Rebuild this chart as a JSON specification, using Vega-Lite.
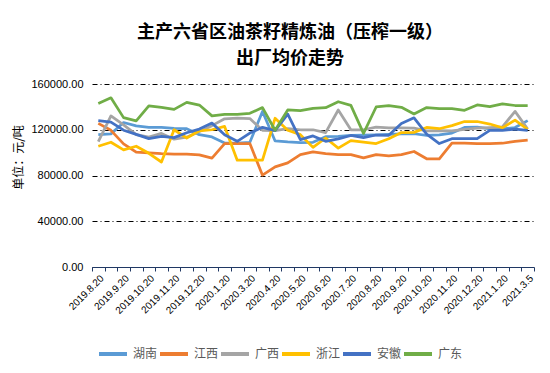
{
"$schema": "https://vega.github.io/schema/vega-lite/v6.json",
"width": 442, "height": 183,
"autosize": {"type": "none"},
"padding": {"left": 92, "top": 84, "right": 16, "bottom": 106},
"background": "white",
"title": {"text": ["主产六省区油茶籽精炼油（压榨一级）", "出厂均价走势"], "font": "Noto Sans CJK SC", "fontSize": 18, "fontWeight": "bold", "color": "#000000", "lineHeight": 26, "anchor": "middle", "dx": -23, "offset": 10},
"config": {"view": {"stroke": null}},
"data": {"values": [
{"d":"2019.8.20","p":"湖南","v":115700},{"d":"2019.9.5","p":"湖南","v":116400},{"d":"2019.9.20","p":"湖南","v":126300},{"d":"2019.10.5","p":"湖南","v":123400},{"d":"2019.10.20","p":"湖南","v":122000},{"d":"2019.11.5","p":"湖南","v":122000},{"d":"2019.11.20","p":"湖南","v":121100},{"d":"2019.12.5","p":"湖南","v":120900},{"d":"2019.12.20","p":"湖南","v":115700},{"d":"2020.1.5","p":"湖南","v":113700},{"d":"2020.1.20","p":"湖南","v":108500},{"d":"2020.3.5","p":"湖南","v":108200},{"d":"2020.3.20","p":"湖南","v":109000},{"d":"2020.4.5","p":"湖南","v":136000},{"d":"2020.4.20","p":"湖南","v":110200},{"d":"2020.5.5","p":"湖南","v":109300},{"d":"2020.5.20","p":"湖南","v":108800},{"d":"2020.6.5","p":"湖南","v":109000},{"d":"2020.6.20","p":"湖南","v":113900},{"d":"2020.7.5","p":"湖南","v":114200},{"d":"2020.7.20","p":"湖南","v":115000},{"d":"2020.8.5","p":"湖南","v":115200},{"d":"2020.8.20","p":"湖南","v":115500},{"d":"2020.9.5","p":"湖南","v":116000},{"d":"2020.9.20","p":"湖南","v":116300},{"d":"2020.10.5","p":"湖南","v":116500},{"d":"2020.10.20","p":"湖南","v":115100},{"d":"2020.11.5","p":"湖南","v":115600},{"d":"2020.11.20","p":"湖南","v":117100},{"d":"2020.12.5","p":"湖南","v":122000},{"d":"2020.12.20","p":"湖南","v":122400},{"d":"2021.1.5","p":"湖南","v":120700},{"d":"2021.1.20","p":"湖南","v":120700},{"d":"2021.2.5","p":"湖南","v":121900},{"d":"2021.3.5","p":"湖南","v":128000},
{"d":"2019.8.20","p":"江西","v":125600},{"d":"2019.9.5","p":"江西","v":119500},{"d":"2019.9.20","p":"江西","v":107700},{"d":"2019.10.5","p":"江西","v":100400},{"d":"2019.10.20","p":"江西","v":99800},{"d":"2019.11.5","p":"江西","v":99100},{"d":"2019.11.20","p":"江西","v":98700},{"d":"2019.12.5","p":"江西","v":98700},{"d":"2019.12.20","p":"江西","v":98100},{"d":"2020.1.5","p":"江西","v":95200},{"d":"2020.1.20","p":"江西","v":107900},{"d":"2020.3.5","p":"江西","v":107900},{"d":"2020.3.20","p":"江西","v":107900},{"d":"2020.4.5","p":"江西","v":80300},{"d":"2020.4.20","p":"江西","v":87500},{"d":"2020.5.5","p":"江西","v":91000},{"d":"2020.5.20","p":"江西","v":98300},{"d":"2020.6.5","p":"江西","v":100600},{"d":"2020.6.20","p":"江西","v":99100},{"d":"2020.7.5","p":"江西","v":98300},{"d":"2020.7.20","p":"江西","v":98300},{"d":"2020.8.5","p":"江西","v":95400},{"d":"2020.8.20","p":"江西","v":98300},{"d":"2020.9.5","p":"江西","v":97100},{"d":"2020.9.20","p":"江西","v":98300},{"d":"2020.10.5","p":"江西","v":101000},{"d":"2020.10.20","p":"江西","v":94600},{"d":"2020.11.5","p":"江西","v":94600},{"d":"2020.11.20","p":"江西","v":108400},{"d":"2020.12.5","p":"江西","v":108400},{"d":"2020.12.20","p":"江西","v":107900},{"d":"2021.1.5","p":"江西","v":107900},{"d":"2021.1.20","p":"江西","v":108200},{"d":"2021.2.5","p":"江西","v":109900},{"d":"2021.3.5","p":"江西","v":111000},
{"d":"2019.8.20","p":"广西","v":109600},{"d":"2019.9.5","p":"广西","v":132100},{"d":"2019.9.20","p":"广西","v":124300},{"d":"2019.10.5","p":"广西","v":115700},{"d":"2019.10.20","p":"广西","v":113500},{"d":"2019.11.5","p":"广西","v":116800},{"d":"2019.11.20","p":"广西","v":111800},{"d":"2019.12.5","p":"广西","v":113500},{"d":"2019.12.20","p":"广西","v":118500},{"d":"2020.1.5","p":"广西","v":123600},{"d":"2020.1.20","p":"广西","v":129600},{"d":"2020.3.5","p":"广西","v":130100},{"d":"2020.3.20","p":"广西","v":129800},{"d":"2020.4.5","p":"广西","v":119500},{"d":"2020.4.20","p":"广西","v":119300},{"d":"2020.5.5","p":"广西","v":121000},{"d":"2020.5.20","p":"广西","v":120000},{"d":"2020.6.5","p":"广西","v":120000},{"d":"2020.6.20","p":"广西","v":117500},{"d":"2020.7.5","p":"广西","v":137300},{"d":"2020.7.20","p":"广西","v":120000},{"d":"2020.8.5","p":"广西","v":120000},{"d":"2020.8.20","p":"广西","v":122300},{"d":"2020.9.5","p":"广西","v":121700},{"d":"2020.9.20","p":"广西","v":121700},{"d":"2020.10.5","p":"广西","v":121400},{"d":"2020.10.20","p":"广西","v":119100},{"d":"2020.11.5","p":"广西","v":119300},{"d":"2020.11.20","p":"广西","v":119000},{"d":"2020.12.5","p":"广西","v":120400},{"d":"2020.12.20","p":"广西","v":121400},{"d":"2021.1.5","p":"广西","v":121900},{"d":"2021.1.20","p":"广西","v":122600},{"d":"2021.2.5","p":"广西","v":136100},{"d":"2021.3.5","p":"广西","v":120700},
{"d":"2019.8.20","p":"浙江","v":105600},{"d":"2019.9.5","p":"浙江","v":109100},{"d":"2019.9.20","p":"浙江","v":102400},{"d":"2019.10.5","p":"浙江","v":105600},{"d":"2019.10.20","p":"浙江","v":99400},{"d":"2019.11.5","p":"浙江","v":91800},{"d":"2019.11.20","p":"浙江","v":120000},{"d":"2019.12.5","p":"浙江","v":112800},{"d":"2019.12.20","p":"浙江","v":119100},{"d":"2020.1.5","p":"浙江","v":120000},{"d":"2020.1.20","p":"浙江","v":122900},{"d":"2020.3.5","p":"浙江","v":93400},{"d":"2020.3.20","p":"浙江","v":93400},{"d":"2020.4.5","p":"浙江","v":93400},{"d":"2020.4.20","p":"浙江","v":130100},{"d":"2020.5.5","p":"浙江","v":119500},{"d":"2020.5.20","p":"浙江","v":115700},{"d":"2020.6.5","p":"浙江","v":104600},{"d":"2020.6.20","p":"浙江","v":112800},{"d":"2020.7.5","p":"浙江","v":103900},{"d":"2020.7.20","p":"浙江","v":110500},{"d":"2020.8.5","p":"浙江","v":109200},{"d":"2020.8.20","p":"浙江","v":107900},{"d":"2020.9.5","p":"浙江","v":112100},{"d":"2020.9.20","p":"浙江","v":117500},{"d":"2020.10.5","p":"浙江","v":117700},{"d":"2020.10.20","p":"浙江","v":122000},{"d":"2020.11.5","p":"浙江","v":120900},{"d":"2020.11.20","p":"浙江","v":123600},{"d":"2020.12.5","p":"浙江","v":127200},{"d":"2020.12.20","p":"浙江","v":127200},{"d":"2021.1.5","p":"浙江","v":125000},{"d":"2021.1.20","p":"浙江","v":121700},{"d":"2021.2.5","p":"浙江","v":128400},{"d":"2021.3.5","p":"浙江","v":120400},
{"d":"2019.8.20","p":"安徽","v":127900},{"d":"2019.9.5","p":"安徽","v":126600},{"d":"2019.9.20","p":"安徽","v":119600},{"d":"2019.10.5","p":"安徽","v":116000},{"d":"2019.10.20","p":"安徽","v":112200},{"d":"2019.11.5","p":"安徽","v":114200},{"d":"2019.11.20","p":"安徽","v":113100},{"d":"2019.12.5","p":"安徽","v":117400},{"d":"2019.12.20","p":"安徽","v":120600},{"d":"2020.1.5","p":"安徽","v":125800},{"d":"2020.1.20","p":"安徽","v":115700},{"d":"2020.3.5","p":"安徽","v":109900},{"d":"2020.3.20","p":"安徽","v":117100},{"d":"2020.4.5","p":"安徽","v":122100},{"d":"2020.4.20","p":"安徽","v":119300},{"d":"2020.5.5","p":"安徽","v":133700},{"d":"2020.5.20","p":"安徽","v":111400},{"d":"2020.6.5","p":"安徽","v":114600},{"d":"2020.6.20","p":"安徽","v":109900},{"d":"2020.7.5","p":"安徽","v":112000},{"d":"2020.7.20","p":"安徽","v":115000},{"d":"2020.8.5","p":"安徽","v":113200},{"d":"2020.8.20","p":"安徽","v":115400},{"d":"2020.9.5","p":"安徽","v":115100},{"d":"2020.9.20","p":"安徽","v":125500},{"d":"2020.10.5","p":"安徽","v":130400},{"d":"2020.10.20","p":"安徽","v":116100},{"d":"2020.11.5","p":"安徽","v":107900},{"d":"2020.11.20","p":"安徽","v":112200},{"d":"2020.12.5","p":"安徽","v":112200},{"d":"2020.12.20","p":"安徽","v":112200},{"d":"2021.1.5","p":"安徽","v":119400},{"d":"2021.1.20","p":"安徽","v":119400},{"d":"2021.2.5","p":"安徽","v":120600},{"d":"2021.3.5","p":"安徽","v":119400},
{"d":"2019.8.20","p":"广东","v":143000},{"d":"2019.9.5","p":"广东","v":147900},{"d":"2019.9.20","p":"广东","v":130600},{"d":"2019.10.5","p":"广东","v":127800},{"d":"2019.10.20","p":"广东","v":140900},{"d":"2019.11.5","p":"广东","v":139600},{"d":"2019.11.20","p":"广东","v":137800},{"d":"2019.12.5","p":"广东","v":143900},{"d":"2019.12.20","p":"广东","v":141600},{"d":"2020.1.5","p":"广东","v":132100},{"d":"2020.1.20","p":"广东","v":133400},{"d":"2020.3.5","p":"广东","v":133500},{"d":"2020.3.20","p":"广东","v":134400},{"d":"2020.4.5","p":"广东","v":139400},{"d":"2020.4.20","p":"广东","v":119600},{"d":"2020.5.5","p":"广东","v":137300},{"d":"2020.5.20","p":"广东","v":136800},{"d":"2020.6.5","p":"广东","v":138700},{"d":"2020.6.20","p":"广东","v":139300},{"d":"2020.7.5","p":"广东","v":144500},{"d":"2020.7.20","p":"广东","v":141300},{"d":"2020.8.5","p":"广东","v":116800},{"d":"2020.8.20","p":"广东","v":139900},{"d":"2020.9.5","p":"广东","v":141000},{"d":"2020.9.20","p":"广东","v":139600},{"d":"2020.10.5","p":"广东","v":133800},{"d":"2020.10.20","p":"广东","v":139400},{"d":"2020.11.5","p":"广东","v":138400},{"d":"2020.11.20","p":"广东","v":138400},{"d":"2020.12.5","p":"广东","v":137000},{"d":"2020.12.20","p":"广东","v":141700},{"d":"2021.1.5","p":"广东","v":140300},{"d":"2021.1.20","p":"广东","v":142600},{"d":"2021.2.5","p":"广东","v":141200},{"d":"2021.3.5","p":"广东","v":141200}
]},
"mark": {"type": "line", "strokeWidth": 2.75, "strokeJoin": "round"},
"encoding": {
"x": {"field": "d", "type": "ordinal", "sort": null, "bandPosition": 0.5,
 "scale": {"type": "band", "paddingInner": 0, "paddingOuter": 0},
 "axis": {"title": null, "tickBand": "extent", "labelAngle": -45, "labelFont": "Liberation Sans", "labelFontSize": 10, "labelColor": "#000000", "domainColor": "#203864", "tickColor": "#203864", "tickSize": 4, "domainWidth": 1, "grid": false, "labelOverlap": false, "labelPadding": 2, "labelExpr": "datum.label == '2021.3.5' || slice(datum.label, -2) != '.5' ? datum.label : ''"}},
"y": {"field": "v", "type": "quantitative", "scale": {"domain": [0, 160000]},
 "axis": {"title": "单位：元/吨", "titleFont": "Noto Sans CJK SC", "titleFontSize": 12, "titleFontWeight": "normal", "titleColor": "#000000", "titleY": 73, "titlePadding": 6, "values": [0, 40000, 80000, 120000, 160000], "format": ".2f", "labelFont": "Liberation Sans", "labelFontSize": 11, "labelColor": "#000000", "labelPadding": 9, "domain": false, "ticks": false, "gridColor": "#000000", "gridDash": [5, 3, 1, 3], "gridWidth": 1}},
"color": {"field": "p", "type": "nominal",
 "scale": {"domain": ["湖南", "江西", "广西", "浙江", "安徽", "广东"], "range": ["#5B9BD5", "#ED7D31", "#A5A5A5", "#FFC000", "#4472C4", "#70AD47"]},
 "legend": {"orient": "none", "legendX": 5, "legendY": 254, "direction": "horizontal", "title": null, "symbolType": "stroke", "symbolSize": 784, "symbolStrokeWidth": 4, "labelFont": "Noto Sans CJK SC", "labelFontSize": 12, "labelColor": "#595959", "columnPadding": -6, "labelOffset": 4, "padding": 0}}
}
}
